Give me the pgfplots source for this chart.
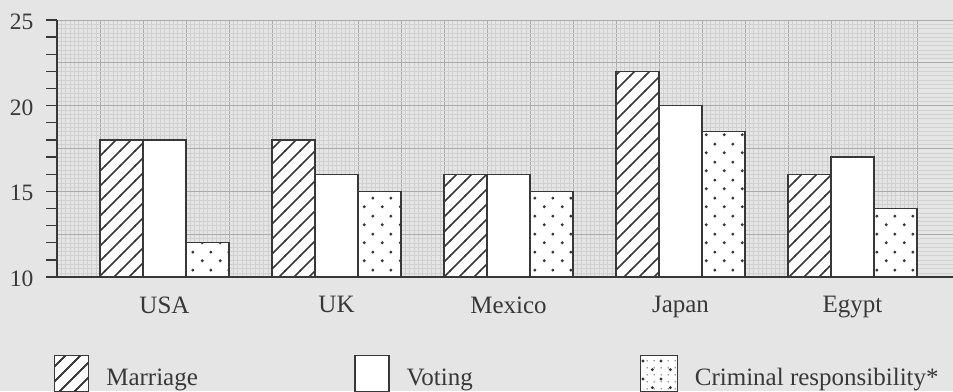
\documentclass[border=0pt]{standalone}
\usepackage{fontspec}
\setmainfont{Liberation Serif}
\usepackage{pgfplots}
\pgfplotsset{compat=1.18}
\usetikzlibrary{patterns.meta}

\definecolor{bgcol}{HTML}{E5E5E5}
\definecolor{majgrid}{HTML}{ABABAB}
\definecolor{mingrid}{HTML}{D0D0D0}
\definecolor{ink}{HTML}{383838}

\pgfdeclarepattern{
  name=hatch, type=uncolored,
  bottom left={\pgfpoint{-1pt}{-1pt}},
  top right={\pgfpoint{16pt}{16pt}},
  tile size={\pgfpoint{15pt}{15pt}},
  code={
    \pgfsetlinewidth{1.5pt}
    \pgfpathmoveto{\pgfpoint{-1pt}{-1pt}}
    \pgfpathlineto{\pgfpoint{16pt}{16pt}}
    \pgfusepath{stroke}
  }
}
\pgfdeclarepattern{
  name=bigdots, type=uncolored,
  bottom left={\pgfpoint{0pt}{0pt}},
  top right={\pgfpoint{18pt}{18pt}},
  tile size={\pgfpoint{18pt}{18pt}},
  code={
    \pgfpathcircle{\pgfpoint{4.5pt}{4.5pt}}{1.7pt}
    \pgfpathcircle{\pgfpoint{13.5pt}{13.5pt}}{1.7pt}
    \pgfusepath{fill}
  }
}
\pgfdeclarepattern{
  name=smalldots, type=uncolored,
  bottom left={\pgfpoint{0pt}{0pt}},
  top right={\pgfpoint{7pt}{7pt}},
  tile size={\pgfpoint{7pt}{7pt}},
  code={
    \pgfpathcircle{\pgfpoint{3.5pt}{3.5pt}}{0.8pt}
    \pgfusepath{fill}
  }
}

\begin{document}
\begin{tikzpicture}
\fill[bgcol] (0,0) rectangle (953pt,391pt);
\begin{axis}[
  at={(57pt,114pt)}, anchor=south west,
  scale only axis, width=896pt, height=257pt,
  xmin=0, xmax=20.837, ymin=10, ymax=25,
  axis x line=bottom, axis y line=left,
  axis line style={-, ink, line width=1.5pt},
  every outer x axis line/.append style={-},
  every outer y axis line/.append style={-},
  every inner x axis line/.append style={-},
  every inner y axis line/.append style={-},
  xtick={0,1,...,20}, xticklabels={},
  minor x tick num=9,
  ytick={10,12.5,15,17.5,20,22.5,25},
  yticklabels={10,,15,,20,,25},
  minor y tick num=9,
  grid=both,
  major grid style={majgrid, line width=0.8pt},
  minor grid style={mingrid, line width=0.4pt},
  tick align=outside,
  major tick length=0pt, minor tick length=0pt,
  tick style={ink, line width=1.3pt},
  extra y ticks={10,11,...,25},
  extra y tick labels={},
  extra y tick style={grid=none, major tick length=11pt},
  extra x ticks={2.5,6.5,10.5,14.5,18.5},
  extra x tick labels={USA,UK,Mexico,Japan,Egypt},
  extra x tick style={grid=none, major tick length=0pt},
  xticklabel style={font=\fontsize{25}{28}\selectfont, text=ink, yshift=-16pt},
  yticklabel style={font=\fontsize{23.5}{26}\selectfont, text=ink, xshift=-20pt, yshift=-2pt},
  legend columns=3,
  legend cell align=left,
  legend style={at={(-0.00335,-0.3035)}, anchor=north west,
    draw=none, fill=none, inner sep=0pt, outer sep=0pt,
    font=\fontsize{25}{30}\selectfont,
    nodes={inner sep=0pt, outer sep=0pt, text=ink},
    /tikz/every odd column/.append style={column sep=17pt},
    /tikz/every even column/.append style={column sep=0pt}},
]
\addplot[ybar, bar width=1, bar shift=0pt, draw=ink, line width=1.3pt, fill=white,
  postaction={pattern=hatch, pattern color=ink},
  legend image code/.code={\draw[ink, line width=1.3pt, fill=white,
    postaction={pattern=hatch, pattern color=ink}]
    (0pt,-14pt) rectangle (34pt,22pt);}]
  coordinates {(1.5,18) (5.5,18) (9.5,16) (13.5,22) (17.5,16)};
\addlegendentry{\makebox[248pt][l]{Marriage}}
\addplot[ybar, bar width=1, bar shift=0pt, draw=ink, line width=1.3pt, fill=white,
  legend image code/.code={\draw[ink, line width=1.3pt, fill=white]
    (0pt,-14pt) rectangle (34pt,22pt);}]
  coordinates {(2.5,18) (6.5,16) (10.5,16) (14.5,20) (18.5,17)};
\addlegendentry{\makebox[233pt][l]{Voting}}
\addplot[ybar, bar width=1, bar shift=0pt, draw=ink, line width=1.3pt, fill=white,
  postaction={pattern=bigdots, pattern color=ink},
  legend image code/.code={\draw[ink, line width=1.3pt, fill=white,
    postaction={pattern=smalldots, pattern color=ink}]
    (0pt,-14pt) rectangle (37pt,22pt);}]
  coordinates {(3.5,12) (7.5,15) (11.5,15) (15.5,18.5) (19.5,14)};
\addlegendentry{Criminal responsibility*}
\end{axis}
\pgfresetboundingbox
\path[use as bounding box] (0,0) rectangle (953pt,391pt);
\end{tikzpicture}
\end{document}
